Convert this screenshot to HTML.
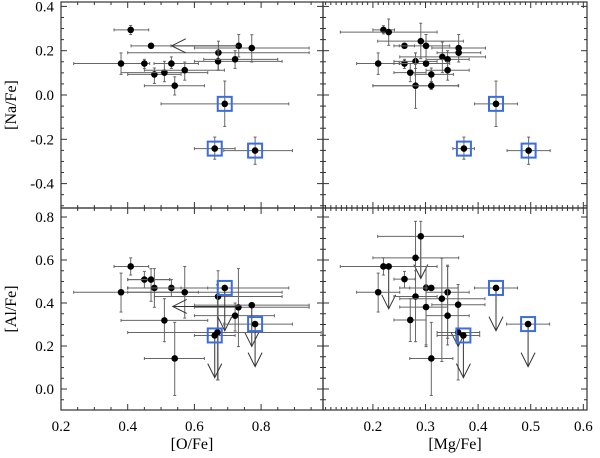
<!DOCTYPE html>
<html><head><meta charset="utf-8"><style>
body{margin:0;background:#fff}
svg text{font-family:"Liberation Serif",serif;fill:#000}
</style></head><body>
<svg id="c" width="600" height="453" viewBox="0 0 600 453"></svg>
<script>
// [x, xlo, xhi, y, yhi, ylo, downLimitTip]
const naVsO = [[.409,.359,.463,.294,.314,.273,null],[.47,.41,.53,.222,.232,.212,null],[.772,.6,.944,.212,.272,.149,null],[.672,.40,.944,.191,.243,.112,null],[.38,.238,.466,.142,.19,.093,null],[.45,.45,.45,.142,.161,.12,null],[.531,.479,.612,.142,.172,.12,null],[.671,.6,.863,.152,.2,.112,null],[.722,.628,.85,.161,.2,.12,null],[.48,.40,.56,.093,.122,.052,null],[.51,.38,.64,.101,.152,.06,null],[.571,.45,.69,.112,.149,.067,null],[.541,.45,.63,.042,.082,0,null],[.733,.733,.733,.222,.273,.172,null]];
const naVsOBlue = [[.691,.5,.883,-.04,.063,-.142,null],[.661,.6,.722,-.242,-.19,-.29,null],[.782,.688,.894,-.251,-.19,-.313,null]];
const naVsOLeftLim = [[.733,.532,.222]];
const naVsMg = [[.22,.2,.241,.294,.313,.276,null],[.23,.138,.322,.284,.343,.224,null],[.26,.24,.279,.222,.222,.222,null],[.291,.209,.372,.243,.324,.164,null],[.301,.25,.346,.222,.273,.172,null],[.363,.312,.414,.212,.273,.149,null],[.363,.322,.405,.191,.2,.18,null],[.21,.169,.251,.142,.19,.093,null],[.26,.24,.28,.142,.161,.12,null],[.281,.24,.322,.152,.19,.12,null],[.301,.25,.346,.142,.152,.13,null],[.332,.251,.414,.172,.239,.101,null],[.342,.301,.383,.161,.2,.112,null],[.271,.24,.301,.101,.142,.06,null],[.311,.28,.353,.093,.122,.06,null],[.342,.301,.383,.112,.149,.067,null],[.281,.2,.362,.042,.19,-.06,null],[.311,.2,.363,.042,.06,.025,null]];
const naVsMgBlue = [[.434,.393,.475,-.04,.063,-.142,null],[.373,.352,.393,-.242,-.19,-.29,null],[.496,.455,.537,-.251,-.19,-.313,null]];
const alVsO = [[.409,.359,.463,.57,.61,.53,null],[.45,.40,.526,.509,.547,.47,null],[.47,.40,.526,.509,.56,.408,null],[.48,.40,.56,.47,.56,.38,null],[.38,.238,.612,.45,.539,.358,null],[.531,.40,.64,.47,.509,.43,null],[.571,.40,.863,.45,.57,.33,null],[.51,.38,.64,.319,.42,.22,null],[.541,.45,.63,.142,.31,-.03,null],[.671,.48,.863,.43,.55,.042,null],[.732,.6,.944,.38,.56,.197,null],[.722,.6,.84,.341,.4,.27,null],[.772,.6,.944,.39,.39,.39,.198],[.669,.4,.98,.263,.485,.042,null]];
const alVsOBlue = [[.691,.4,.883,.47,.47,.47,.271],[.782,.688,.894,.302,.302,.302,.104],[.661,.6,.722,.249,.249,.249,.053]];
const alVsOLeftLim = [[.732,.535,.384]];
const alVsMg = [[.291,.209,.372,.71,.78,.71,.514],[.281,.2,.363,.61,.78,.44,null],[.22,.138,.322,.57,.61,.53,null],[.23,.23,.23,.57,.57,.57,.373],[.26,.24,.28,.511,.547,.47,null],[.21,.169,.251,.45,.539,.358,null],[.301,.27,.342,.47,.57,.205,null],[.311,.251,.362,.47,.47,.47,null],[.281,.24,.322,.43,.55,.22,null],[.342,.301,.383,.45,.57,.205,null],[.331,.251,.413,.42,.608,.128,null],[.301,.251,.342,.381,.486,.197,null],[.362,.312,.413,.392,.486,.042,null],[.271,.24,.301,.321,.42,.221,null],[.342,.301,.383,.341,.576,.236,null],[.362,.322,.403,.263,.263,.263,.198],[.311,.27,.352,.142,.31,-.03,null]];
const alVsMgBlue = [[.434,.393,.475,.47,.47,.47,.271],[.372,.322,.403,.249,.249,.249,.053],[.495,.454,.536,.302,.302,.302,.104]];
const oTicks = ["0.2","0.4","0.6","0.8"];
const mgTicks = ["0.2","0.3","0.4","0.5","0.6"];
const naTicks = ["-0.4","-0.2","0.0","0.2","0.4"];
const alTicks = ["0.0","0.2","0.4","0.6","0.8"];

const svg=document.getElementById('c');const NS='http://www.w3.org/2000/svg';
function mk(t,a,p){const e=document.createElementNS(NS,t);for(const k in a)e.setAttribute(k,a[k]);(p||svg).appendChild(e);return e;}
const xO=v=>61+(v-0.2)*333.5, xMg=v=>324+(v-0.107)*526;
const yNa=v=>95-v*221.5, yAl=v=>389-v*215;
const L=61,M=323,R=587,T=2,Mid=208,B=410;

function frame(x0,x1,y0,y1,name){const r=mk('rect',{x:x0,y:y0,width:x1-x0,height:y1-y0,fill:'none',stroke:'#333','stroke-width':1.2});
}
function xticks(g,fx,x0,x1,y0,y1,major,minor,lo,hi){for(let v=lo;v<=hi+1e-9;v+=minor){const px=fx(v);if(px<x0+1||px>x1-1)continue;
const isM=Math.abs(v/major-Math.round(v/major))<1e-6;const len=isM?6:3;
mk('line',{x1:px,x2:px,y1:y1,y2:y1-len,stroke:'#333'},g);mk('line',{x1:px,x2:px,y1:y0,y2:y0+len,stroke:'#333'},g);}}
function yticks(g,fy,x0,x1,y0,y1,major,minor,lo,hi){for(let v=lo;v<=hi+1e-9;v+=minor){const py=fy(v);if(py<y0+1||py>y1-1)continue;
const isM=Math.abs(v/major-Math.round(v/major))<1e-6;const len=isM?6:3;
mk('line',{y1:py,y2:py,x1:x0,x2:x0+len,stroke:'#333'},g);mk('line',{y1:py,y2:py,x1:x1,x2:x1-len,stroke:'#333'},g);}}

function series(pts,fx,fy,name,blue){const g=mk('g',{});
pts.forEach(p=>{const [x,xl,xh,y,yh,yl,lim]=p;const cx=fx(x),cy=fy(y);const st={stroke:'#666','stroke-width':1};
if(xh>xl){mk('line',Object.assign({x1:fx(xl),x2:fx(xh),y1:cy,y2:cy},st),g);mk('line',Object.assign({x1:fx(xl),x2:fx(xl),y1:cy-1.5,y2:cy+1.5},st),g);mk('line',Object.assign({x1:fx(xh),x2:fx(xh),y1:cy-1.5,y2:cy+1.5},st),g);}
if(yh>yl){mk('line',Object.assign({x1:cx,x2:cx,y1:fy(yh),y2:fy(yl)},st),g);mk('line',Object.assign({x1:cx-1.5,x2:cx+1.5,y1:fy(yh),y2:fy(yh)},st),g);mk('line',Object.assign({x1:cx-1.5,x2:cx+1.5,y1:fy(yl),y2:fy(yl)},st),g);}
if(lim!==null){const ty=fy(lim);mk('line',{x1:cx,x2:cx,y1:cy,y2:ty,stroke:'#333','stroke-width':1},g);
mk('polyline',{points:`${cx-7},${ty-14} ${cx},${ty} ${cx+7},${ty-14}`,fill:'none',stroke:'#333','stroke-width':1},g);}
const d=mk('circle',{cx:cx,cy:cy,r:3.3,fill:'#000'},g);
if(blue){const s=mk('rect',{x:cx-7,y:cy-7,width:14,height:14,fill:'none',stroke:'#3a6ee0','stroke-width':2},g);}
});}
function leftLim(arr,fx,fy){arr.forEach(a=>{const x1=fx(a[0]),x2=fx(a[1]),y=fy(a[2]);
const l=mk('line',{x1:x1,x2:x2,y1:y,y2:y,stroke:'#333'});
mk('polyline',{points:`${x2+14},${y-7} ${x2},${y} ${x2+14},${y+7}`,fill:'none',stroke:'#333'});});}

const tg=mk('g',{});
xticks(tg,xO,L,M,T,Mid,0.2,0.05,0.2,1.0);xticks(tg,xO,L,M,Mid,B,0.2,0.05,0.2,1.0);
xticks(tg,xMg,M,R,T,Mid,0.1,0.01,0.11,0.6);xticks(tg,xMg,M,R,Mid,B,0.1,0.01,0.11,0.6);
yticks(tg,yNa,L,M,T,Mid,0.2,0.05,-0.5,0.45);yticks(tg,yNa,M,R,T,Mid,0.2,0.05,-0.5,0.45);
yticks(tg,yAl,L,M,Mid,B,0.2,0.05,-0.1,0.85);yticks(tg,yAl,M,R,Mid,B,0.2,0.05,-0.1,0.85);

series(naVsO,xO,yNa,'na-vs-o-series',false);series(naVsOBlue,xO,yNa,'na-vs-o-highlight',true);leftLim(naVsOLeftLim,xO,yNa);
series(naVsMg,xMg,yNa,'na-vs-mg-series',false);series(naVsMgBlue,xMg,yNa,'na-vs-mg-highlight',true);
series(alVsO,xO,yAl,'al-vs-o-series',false);series(alVsOBlue,xO,yAl,'al-vs-o-highlight',true);leftLim(alVsOLeftLim,xO,yAl);
series(alVsMg,xMg,yAl,'al-vs-mg-series',false);series(alVsMgBlue,xMg,yAl,'al-vs-mg-highlight',true);

frame(L,M,T,Mid,'panel-na-o');frame(M,R,T,Mid,'panel-na-mg');frame(L,M,Mid,B,'panel-al-o');frame(M,R,Mid,B,'panel-al-mg');

function txt(s,x,y,anchor,name,extra){const t=mk('text',Object.assign({x:x,y:y,'text-anchor':anchor,'font-size':15},extra||{}));t.textContent=s;
return t;}
oTicks.forEach(s=>txt(s,xO(+s),431,'middle','x-tick-label'));
mgTicks.forEach(s=>txt(s,xMg(+s),431,'middle','x-tick-label'));
naTicks.forEach(s=>txt(s,54,yNa(+s)+5,'end','y-tick-label'));
alTicks.forEach(s=>txt(s,54,yAl(+s)+5,'end','y-tick-label'));
txt('[O/Fe]',192,449,'middle','x-axis-title-o',{'font-size':16});
txt('[Mg/Fe]',455,449,'middle','x-axis-title-mg',{'font-size':16});
txt('[Na/Fe]',16,105,'middle','y-axis-title-na',{'font-size':16,transform:'rotate(-90 16 105)'});
txt('[Al/Fe]',16,309,'middle','y-axis-title-al',{'font-size':16,transform:'rotate(-90 16 309)'});
</script>
</body></html>
